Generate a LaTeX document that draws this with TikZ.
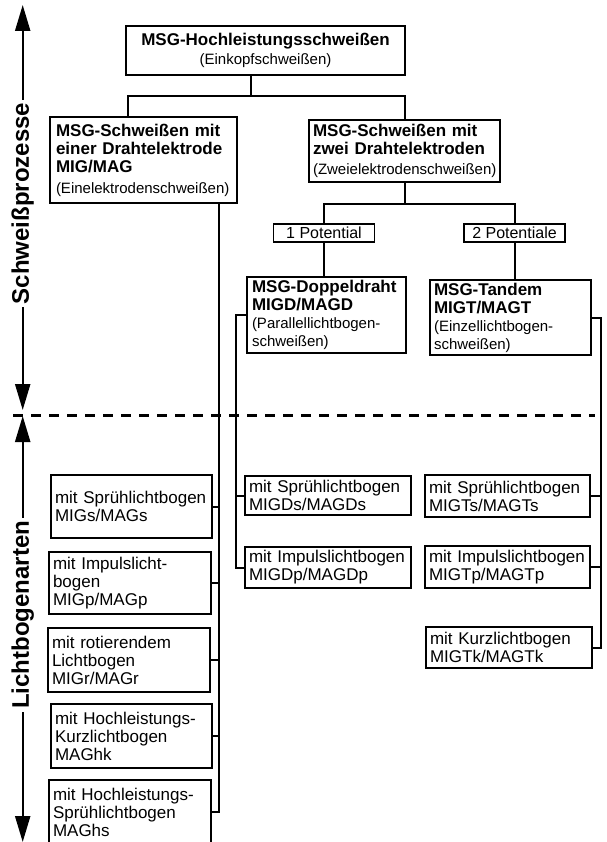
\documentclass[tikz,border=0pt]{standalone}
\usepackage{fontspec}
\setmainfont{Liberation Sans}
\usetikzlibrary{arrows.meta}

\newcommand*{\axisx}{22.7}
\newcommand*{\dashy}{415}
\newcommand*{\parennote}[1]{{\fontsize{15}{18}\selectfont #1}}

\begin{document}
\begin{tikzpicture}
[
	x=1pt,
	y=-1pt,
	box/.style={draw,line width=2.2pt,inner xsep=4pt,inner ysep=0pt,align=left,font=\fontsize{17}{18}\selectfont},
	potbox/.style={draw,line width=1.8pt,inner sep=0pt,minimum width=101pt,minimum height=18pt,font=\fontsize{16}{16}\selectfont},
	axislabel/.style={fill=white,rotate=90,inner sep=3pt,font=\fontsize{24}{24}\selectfont\bfseries},
	axisarrow/.style={line width=2.2pt,{Triangle[length=26pt,width=15pt]}-{Triangle[length=26pt,width=15pt]}},
	conn/.style={line width=2pt},
	divider/.style={line width=3pt,dash pattern=on 10pt off 8pt}
]

	\useasboundingbox (0,0) rectangle (606,842);

	% side arrows
	\coordinate (ptop) at (\axisx,5);
	\coordinate (pbot) at (\axisx,410);
	\coordinate (ltop) at (\axisx,416);
	\coordinate (lbot) at (\axisx,842);
	\draw[axisarrow] (ptop) -- (pbot) node[axislabel,pos=0.49] (proc) {Schweißprozesse};
	\draw[axisarrow] (ltop) -- (lbot) node[axislabel,pos=0.467] (arcs) {Lichtbogenarten};

	\coordinate (dl) at (13,\dashy);
	\coordinate (dr) at (595,\dashy);
	\draw[divider] (dl) -- (dr);

	% processes
	\node[box,align=center,text width=271pt,minimum height=49pt] at (265.5,50.5) (weld)
		{\textbf{MSG-Hochleistungsschweißen}\\[1pt]\parennote{(Einkopfschweißen)}};
	\node[box,inner xsep=6pt,text width=175pt,minimum height=86pt] at (143.5,160) (single)
		{\textbf{MSG-Schweißen mit}\\\textbf{einer Drahtelektrode}\\\textbf{MIG/MAG}\\[3pt]\parennote{(Einelektrodenschweißen)}};
	\node[box,text width=183pt,minimum height=62pt] at (404.5,151) (twin)
		{\textbf{MSG-Schweißen mit}\\\textbf{zwei Drahtelektroden}\\[2pt]\parennote{(Zweielektrodenschweißen)}};
	\node[potbox] at (324,233) (pot1) {1 Potential};
	\node[potbox] at (514.5,233) (pot2) {2 Potentiale};
	\node[box,inner xsep=5pt,text width=149pt,minimum height=76pt] at (326.5,315) (dopp)
		{\textbf{MSG-Doppeldraht}\\\textbf{MIGD/MAGD}\\\parennote{(Parallellichtbogen-}\\\parennote{schweißen)}};
	\node[box,text width=153pt,minimum height=75pt] at (510.5,317.5) (tand)
		{\textbf{MSG-Tandem}\\\textbf{MIGT/MAGT}\\\parennote{(Einzellichtbogen-}\\\parennote{schweißen)}};

	% arc types, one wire
	\node[box,text width=153pt,minimum height=63pt] at (131.5,506.5) (spr) {mit Sprühlichtbogen\\MIGs/MAGs};
	\node[box,text width=154pt,minimum height=62pt] at (130,583) (imp) {mit Impulslicht-\\bogen\\MIGp/MAGp};
	\node[box,text width=154pt,minimum height=64pt] at (129,660) (rot) {mit rotierendem\\Lichtbogen\\MIGr/MAGr};
	\node[box,text width=153pt,minimum height=64pt] at (131.5,736) (hk) {mit Hochleistungs-\\Kurzlichtbogen\\MAGhk};
	\node[box,text width=154pt,minimum height=64pt] at (130,812) (hs) {mit Hochleistungs-\\Sprühlichtbogen\\MAGhs};

	% arc types, two wires
	\node[box,text width=158pt,minimum height=39pt] at (328,495.5) (mdS) {mit Sprühlichtbogen\\MIGDs/MAGDs};
	\node[box,text width=158pt,minimum height=41pt] at (328,567.5) (mdP) {mit Impulslichtbogen\\MIGDp/MAGDp};
	\node[box,text width=157pt,minimum height=42pt] at (507.5,496) (mtS) {mit Sprühlichtbogen\\MIGTs/MAGTs};
	\node[box,text width=157pt,minimum height=42pt] at (507.5,567) (mtP) {mit Impulslichtbogen\\MIGTp/MAGTp};
	\node[box,text width=158pt,minimum height=41pt] at (509,647.5) (mtK) {mit Kurzlichtbogen\\MIGTk/MAGTk};

	% tree
	\draw[conn] ([xshift=-15pt]weld.south) -- ++(0,20) coordinate (j0);
	\draw[conn] ([xshift=-15.5pt]single.north) |- (j0) -| (twin.north);
	\draw[conn] (twin.south) -- ++(0,21) coordinate (j1);
	\draw[conn] (pot1.north) |- (j1) -| (pot2.north);
	\draw[conn] (pot1.south) -- (pot1.south |- dopp.north);
	\draw[conn] (pot2.south) -- (pot2.south |- tand.north);

	\coordinate (lspine) at ([xshift=75.5pt]single.south);
	\draw[conn] (lspine) |- (hs.east);
	\foreach \b in {spr,imp,rot,hk}
		\draw[conn] (\b.east) -- (\b.east -| lspine);

	\draw[conn] (dopp.west) -- ++(-10,0) coordinate (mspine) |- (mdP.west);
	\draw[conn] (mdS.west) -- (mdS.west -| mspine);

	\draw[conn] (tand.east) -- ++(9,0) coordinate (rspine) |- (mtK.east);
	\foreach \b in {mtS,mtP}
		\draw[conn] (\b.east) -- (\b.east -| rspine);

\end{tikzpicture}
\end{document}
